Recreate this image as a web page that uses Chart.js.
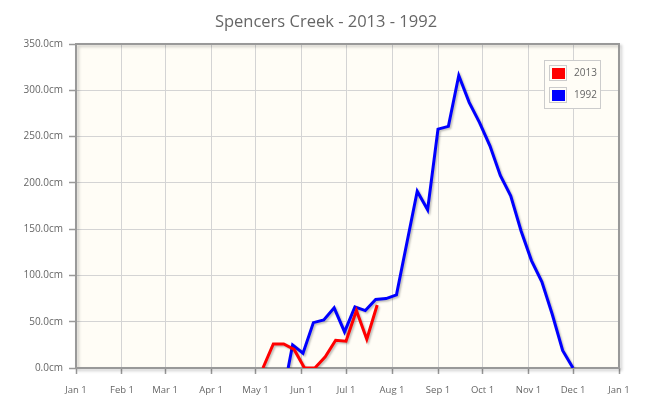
<!DOCTYPE html>
<html>
<head>
<meta charset="utf-8">
<script src="https://cdn.jsdelivr.net/npm/chart.js@4"></script>
<style>
html,body{margin:0;padding:0;background:#fff;}
#wrap{width:648px;height:399px;}
</style>
</head>
<body>
<div id="wrap"><canvas id="c" width="648" height="399"></canvas></div>
<script>
// Day-of-year positions (Jan 1 = 0) and snow depth values (cm)
const days2013 = [126,133,140,147,154,161,168,175,182,189,196,203];
const cm2013   = [0,26,26,20,0,0,12,30,29,62,31,68];
const days1992 = [143,146,153,160,167,174,181,188,195,202,209,216,230,237,244,251,258,265,272,279,286,293,300,307,314,321,328,335];
const cm1992   = [0,25,16,49,52,65,39,66,62,74,75,79,191,171,258,261,316,287,265,240,208,186,148,116,93,58,19,0];
const monthDays = [0,31,60,91,121,152,182,213,244,274,305,335,366];
const monthLabels = ['Jan 1','Feb 1','Mar 1','Apr 1','May 1','Jun 1','Jul 1','Aug 1','Sep 1','Oct 1','Nov 1','Dec 1','Jan 1'];
const yTicks = [0,50,100,150,200,250,300,350];
const seriesNames = ['2013','1992'];
const seriesColors = ['#ff0000','#0000ff'];
const titleText = 'Spencers Creek - 2013 - 1992';

const FONT = "'Open Sans', 'DejaVu Sans', sans-serif";

const toXY = (xs, ys) => xs.map((d, i) => ({x: d, y: ys[i]}));

const framePlugin = {
  id: 'frame',
  beforeDraw(chart) {
    const {ctx, chartArea: a} = chart;
    ctx.save();
    ctx.fillStyle = '#fffdf6';
    ctx.fillRect(a.left, a.top, a.right - a.left, a.bottom - a.top);
    ctx.fillStyle = '#666666';
    ctx.font = '16.5px ' + FONT;
    ctx.textAlign = 'center';
    ctx.textBaseline = 'middle';
    ctx.fillText(titleText, chart.width / 2 + 2, 22);
    ctx.restore();
  },
  beforeDatasetsDraw(chart) {
    const {ctx, chartArea: a} = chart;
    ctx.save();
    ctx.shadowColor = 'rgba(0,0,0,0.22)';
    ctx.shadowBlur = 3;
    ctx.shadowOffsetX = 2;
    ctx.shadowOffsetY = 2;
    ctx.strokeStyle = '#999999';
    ctx.lineWidth = 2;
    ctx.strokeRect(a.left, a.top, a.right - a.left, a.bottom - a.top);
    ctx.restore();
  },
  beforeDatasetDraw(chart) {
    const ctx = chart.ctx;
    ctx.save();
    ctx.shadowColor = 'rgba(0,0,0,0.25)';
    ctx.shadowBlur = 2;
    ctx.shadowOffsetX = 1.5;
    ctx.shadowOffsetY = 1.5;
  },
  afterDatasetDraw(chart) {
    chart.ctx.restore();
  },
  afterDraw(chart) {
    const {ctx, chartArea: a} = chart;
    const bx = a.right - 75, by = a.top + 16, bw = 56, bh = 48;
    ctx.save();
    ctx.fillStyle = '#fffdf6';
    ctx.fillRect(bx, by, bw, bh);
    ctx.strokeStyle = '#cccccc';
    ctx.lineWidth = 1;
    ctx.strokeRect(bx + 0.5, by + 0.5, bw, bh);
    chart.data.datasets.forEach((ds, i) => {
      const sy = by + 5 + i * 22;
      ctx.strokeStyle = '#cccccc';
      ctx.strokeRect(bx + 5.5, sy + 0.5, 17, 15);
      ctx.fillStyle = ds.borderColor;
      ctx.fillRect(bx + 8, sy + 3, 13, 11);
      ctx.fillStyle = '#666666';
      ctx.font = '10px ' + FONT;
      ctx.textBaseline = 'middle';
      ctx.textAlign = 'left';
      ctx.fillText(ds.label, bx + 30, sy + 8.5);
    });
    ctx.restore();
  }
};

new Chart(document.getElementById('c'), {
  type: 'line',
  data: {
    datasets: [
      {label: seriesNames[0], data: toXY(days2013, cm2013), borderColor: seriesColors[0], backgroundColor: seriesColors[0], borderWidth: 3, pointRadius: 0, tension: 0, fill: false},
      {label: seriesNames[1], data: toXY(days1992, cm1992), borderColor: seriesColors[1], backgroundColor: seriesColors[1], borderWidth: 3, pointRadius: 0, tension: 0, fill: false}
    ]
  },
  options: {
    responsive: false,
    animation: false,
    layout: {padding: {left: 0, right: 29, top: 44, bottom: 0}},
    plugins: {
      legend: {display: false},
      tooltip: {enabled: false},
      title: {display: false}
    },
    scales: {
      x: {
        type: 'linear',
        min: 0, max: 366,
        afterBuildTicks: s => { s.ticks = monthDays.map(v => ({value: v})); },
        afterFit: s => { s.height = 31; },
        ticks: {
          autoSkip: false, maxRotation: 0,
          color: '#666666',
          font: {family: FONT, size: 9.5},
          padding: 11,
          callback: v => monthLabels[monthDays.indexOf(v)]
        },
        grid: {color: '#d4d4d4', lineWidth: 1, tickColor: '#999999', tickLength: 6, tickWidth: 1.5},
        border: {display: false}
      },
      y: {
        min: 0, max: 350,
        afterBuildTicks: s => { s.ticks = yTicks.map(v => ({value: v})); },
        afterFit: s => { s.width = 76; },
        ticks: {
          color: '#666666',
          font: {family: FONT, size: 10},
          padding: 6,
          callback: v => v.toFixed(1) + 'cm'
        },
        grid: {color: '#d4d4d4', lineWidth: 1, tickColor: '#999999', tickLength: 7, tickWidth: 1.5},
        border: {display: false}
      }
    }
  },
  plugins: [framePlugin]
});
</script>
</body>
</html>
